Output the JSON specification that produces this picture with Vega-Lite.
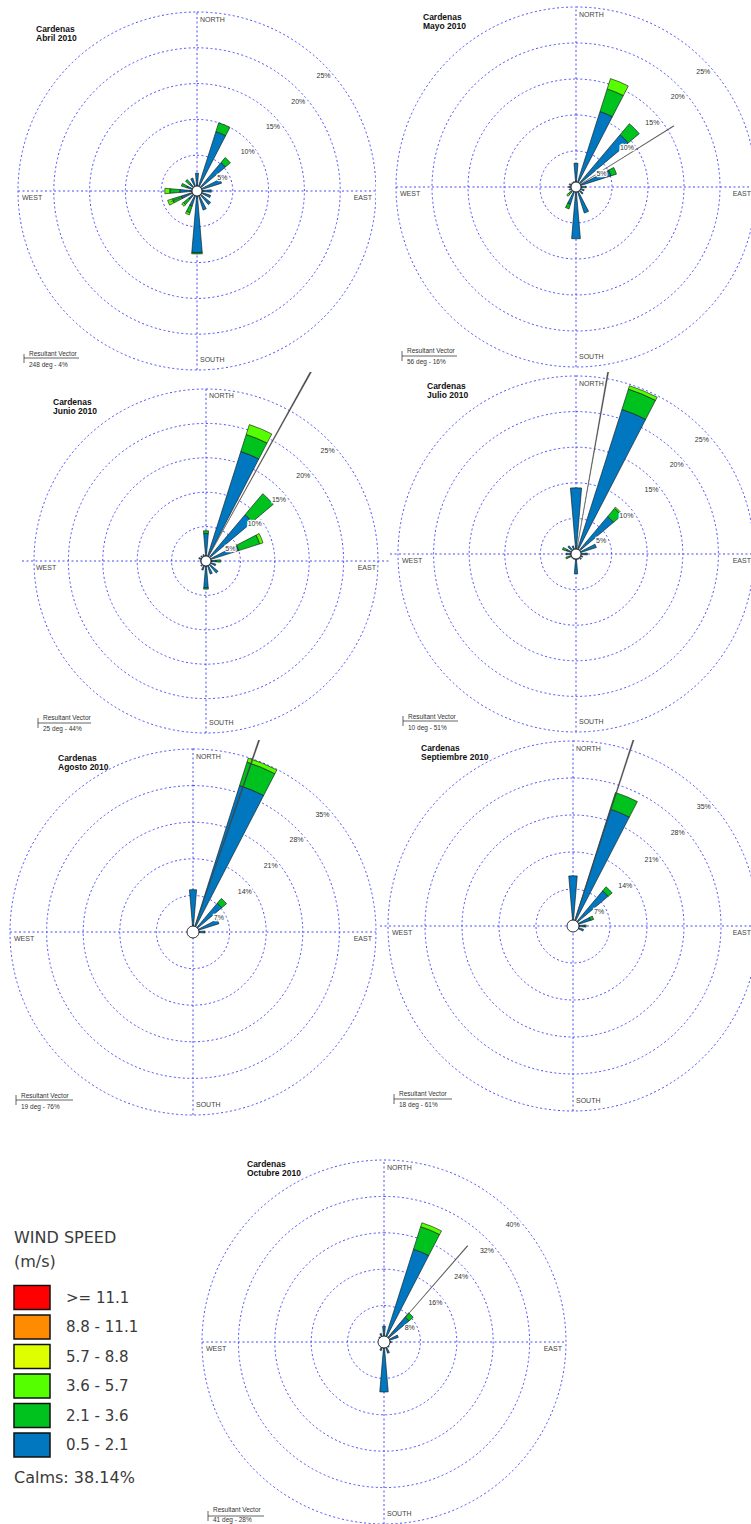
{
"$schema": "https://vega.github.io/schema/vega-lite/v6.json",
"padding": 0,
"background": "white",
"spacing": 0,
"config": {"view": {"stroke": null}, "axis": {"disable": true}, "legend": {"disable": true}, "concat": {"spacing": 0}, "text": {"font": "Liberation Sans"}},
"resolve": {"scale": {"radius": "independent", "x": "independent", "y": "independent"}},
"datasets": {
"r25": [{"r":5,"lab":"5%"},{"r":10,"lab":"10%"},{"r":15,"lab":"15%"},{"r":20,"lab":"20%"},{"r":25,"lab":"25%"}],
"r35": [{"r":7,"lab":"7%"},{"r":14,"lab":"14%"},{"r":21,"lab":"21%"},{"r":28,"lab":"28%"},{"r":35,"lab":"35%"}],
"r40": [{"r":8,"lab":"8%"},{"r":16,"lab":"16%"},{"r":24,"lab":"24%"},{"r":32,"lab":"32%"},{"r":40,"lab":"40%"}],
"cls": [{"c":6,"lab":">= 11.1"},{"c":5,"lab":"8.8 - 11.1"},{"c":4,"lab":"5.7 - 8.8"},{"c":3,"lab":"3.6 - 5.7"},{"c":2,"lab":"2.1 - 3.6"},{"c":1,"lab":"0.5 - 2.1"}],
"abril": [{"d":0,"c":1,"v":2.5},{"d":22.5,"c":1,"v":8.7},{"d":22.5,"c":2,"v":1.3},{"d":45,"c":1,"v":5.2},{"d":45,"c":2,"v":0.9},{"d":67.5,"c":1,"v":3.6},{"d":90,"c":1,"v":2.0},{"d":112.5,"c":1,"v":2.0},{"d":135,"c":1,"v":2.5},{"d":157.5,"c":1,"v":2.8},{"d":180,"c":1,"v":8.6},{"d":180,"c":2,"v":0.2},{"d":202.5,"c":1,"v":2.2},{"d":202.5,"c":2,"v":1.0},{"d":202.5,"c":3,"v":0.3},{"d":225,"c":1,"v":1.5},{"d":225,"c":2,"v":1.0},{"d":225,"c":3,"v":0.3},{"d":247.5,"c":1,"v":2.3},{"d":247.5,"c":2,"v":1.3},{"d":247.5,"c":3,"v":0.7},{"d":270,"c":1,"v":2.4},{"d":270,"c":2,"v":1.4},{"d":270,"c":3,"v":0.7},{"d":292.5,"c":1,"v":1.5},{"d":292.5,"c":2,"v":0.8},{"d":315,"c":1,"v":1.4},{"d":315,"c":2,"v":0.7},{"d":337.5,"c":1,"v":1.9}],
"mayo": [{"d":0,"c":1,"v":3.3},{"d":22.5,"c":1,"v":11},{"d":22.5,"c":2,"v":3.3},{"d":22.5,"c":3,"v":1.5},{"d":45,"c":1,"v":9.5},{"d":45,"c":2,"v":2.0},{"d":67.5,"c":1,"v":5.1},{"d":67.5,"c":2,"v":0.8},{"d":90,"c":1,"v":1.4},{"d":112.5,"c":1,"v":1.2},{"d":135,"c":1,"v":1.3},{"d":157.5,"c":1,"v":3.8},{"d":180,"c":1,"v":7.2},{"d":202.5,"c":1,"v":2.5},{"d":202.5,"c":2,"v":0.7},{"d":225,"c":1,"v":1.0},{"d":225,"c":2,"v":0.4},{"d":225,"c":3,"v":0.3},{"d":247.5,"c":1,"v":1.0},{"d":270,"c":1,"v":1.0},{"d":292.5,"c":1,"v":1.0},{"d":315,"c":1,"v":0.8},{"d":337.5,"c":1,"v":0.8}],
"junio": [{"d":0,"c":1,"v":4.0},{"d":0,"c":2,"v":0.4},{"d":22.5,"c":1,"v":16.7},{"d":22.5,"c":2,"v":2.6},{"d":22.5,"c":3,"v":1.5},{"d":45,"c":1,"v":8.8},{"d":45,"c":2,"v":4.0},{"d":67.5,"c":1,"v":5.0},{"d":67.5,"c":2,"v":3.2},{"d":67.5,"c":3,"v":0.5},{"d":90,"c":1,"v":1.5},{"d":90,"c":2,"v":0.6},{"d":112.5,"c":1,"v":1.5},{"d":135,"c":1,"v":2.3},{"d":157.5,"c":1,"v":2.0},{"d":180,"c":1,"v":3.9},{"d":180,"c":2,"v":0.2},{"d":202.5,"c":1,"v":1.4},{"d":225,"c":1,"v":1.0},{"d":247.5,"c":1,"v":0.8},{"d":270,"c":1,"v":0.8},{"d":292.5,"c":1,"v":1.1},{"d":315,"c":1,"v":1.0},{"d":337.5,"c":1,"v":1.0}],
"julio": [{"d":0,"c":1,"v":9.3},{"d":22.5,"c":1,"v":21.3},{"d":22.5,"c":2,"v":3.0},{"d":22.5,"c":3,"v":0.5},{"d":45,"c":1,"v":6.9},{"d":45,"c":2,"v":1.5},{"d":45,"c":3,"v":0.2},{"d":67.5,"c":1,"v":3.0},{"d":90,"c":1,"v":1.6},{"d":112.5,"c":1,"v":1.0},{"d":135,"c":1,"v":1.0},{"d":157.5,"c":1,"v":0.8},{"d":180,"c":1,"v":2.8},{"d":202.5,"c":1,"v":0.8},{"d":225,"c":1,"v":0.8},{"d":247.5,"c":1,"v":1.0},{"d":247.5,"c":2,"v":0.5},{"d":270,"c":1,"v":1.4},{"d":292.5,"c":1,"v":1.4},{"d":292.5,"c":2,"v":0.6},{"d":315,"c":1,"v":1.5},{"d":337.5,"c":1,"v":1.2}],
"agosto": [{"d":0,"c":1,"v":8.1},{"d":22.5,"c":1,"v":29.4},{"d":22.5,"c":2,"v":4.7},{"d":22.5,"c":3,"v":0.8},{"d":45,"c":1,"v":7.2},{"d":45,"c":2,"v":1.2},{"d":67.5,"c":1,"v":5.2},{"d":90,"c":1,"v":2.3},{"d":112.5,"c":1,"v":0.8},{"d":135,"c":1,"v":0.6},{"d":157.5,"c":1,"v":0.5},{"d":180,"c":1,"v":0.6},{"d":202.5,"c":1,"v":0.4},{"d":225,"c":1,"v":0.4},{"d":247.5,"c":1,"v":0.4},{"d":270,"c":1,"v":0.5},{"d":292.5,"c":1,"v":0.5},{"d":315,"c":1,"v":0.5},{"d":337.5,"c":1,"v":0.6}],
"sept": [{"d":0,"c":1,"v":9.5},{"d":22.5,"c":1,"v":23.2},{"d":22.5,"c":2,"v":3.3},{"d":45,"c":1,"v":8.7},{"d":45,"c":2,"v":1.0},{"d":67.5,"c":1,"v":3.5},{"d":67.5,"c":2,"v":0.6},{"d":90,"c":1,"v":2.2},{"d":90,"c":2,"v":0.3},{"d":112.5,"c":1,"v":2.1},{"d":135,"c":1,"v":0.8},{"d":157.5,"c":1,"v":0.6},{"d":180,"c":1,"v":1.1},{"d":202.5,"c":1,"v":0.5},{"d":225,"c":1,"v":0.4},{"d":247.5,"c":1,"v":0.4},{"d":270,"c":1,"v":0.4},{"d":292.5,"c":1,"v":0.4},{"d":315,"c":1,"v":0.5},{"d":337.5,"c":1,"v":0.6}],
"oct": [{"d":0,"c":1,"v":3.5},{"d":22.5,"c":1,"v":21.4},{"d":22.5,"c":2,"v":5.2},{"d":22.5,"c":3,"v":0.9},{"d":45,"c":1,"v":7.2},{"d":45,"c":2,"v":1.2},{"d":67.5,"c":1,"v":3.3},{"d":90,"c":1,"v":1.6},{"d":112.5,"c":1,"v":1.2},{"d":135,"c":1,"v":1.5},{"d":157.5,"c":1,"v":2.6},{"d":180,"c":1,"v":11},{"d":202.5,"c":1,"v":2.0},{"d":225,"c":1,"v":1.2},{"d":247.5,"c":1,"v":1.0},{"d":270,"c":1,"v":1.0},{"d":292.5,"c":1,"v":1.2},{"d":315,"c":1,"v":1.5},{"d":337.5,"c":1,"v":2.0}]
},
"vconcat": [
{"hconcat": [
{"width":376,"height":372,"layer":[
{"data":{"name":"r25"},"mark":{"type":"arc","filled":false,"stroke":"#4b4bff","strokeWidth":1,"strokeDash":[2,2.5],"clip":true},"encoding":{"x":{"datum":0,"type":"quantitative","scale":{"domain":[-197,179],"nice":false,"zero":false}},"y":{"datum":0,"type":"quantitative","scale":{"domain":[-181,191],"nice":false,"zero":false}},"theta":{"datum":0,"type":"quantitative","scale":{"domain":[0,360],"range":[0,6.283185307179586]}},"theta2":{"datum":360},"radius":{"field":"r","type":"quantitative","stack":null,"scale":{"type":"linear","domain":[0,25],"range":[0,179],"zero":true,"nice":false}}}},
{"data":{"values":[{}]},"mark":{"type":"rule","stroke":"#4b4bff","strokeWidth":1,"strokeDash":[2,2.5],"clip":true},"encoding":{"x":{"datum":0,"type":"quantitative"},"y":{"datum":-179,"type":"quantitative"},"y2":{"datum":179}}},
{"data":{"values":[{}]},"mark":{"type":"rule","stroke":"#4b4bff","strokeWidth":1,"strokeDash":[2,2.5],"clip":true},"encoding":{"y":{"datum":0,"type":"quantitative"},"x":{"datum":-179,"type":"quantitative"},"x2":{"datum":179}}},
{"data":{"name":"abril"},"transform":[{"stack":"v","groupby":["d"],"sort":[{"field":"c","order":"ascending"}],"as":["r0","r1"]}],"mark":{"type":"arc","stroke":"#111","strokeWidth":0.6,"thetaOffset":-0.085,"theta2Offset":0.085,"clip":true},"encoding":{"x":{"datum":0,"type":"quantitative"},"y":{"datum":0,"type":"quantitative"},"theta":{"field":"d","type":"quantitative","stack":null},"theta2":{"field":"d"},"radius":{"field":"r1","type":"quantitative"},"radius2":{"field":"r0"},"color":{"field":"c","type":"ordinal","scale":{"domain":[1,2,3,4,5,6],"range":["#0077be","#00c21e","#55ff00","#ddff00","#ff8c00","#ff0000"]},"legend":null}}},
{"data":{"values":[{"vd":248,"vp":4}]},"mark":{"type":"arc","fill":"#444","stroke":"#444","strokeWidth":0.4,"thetaOffset":-0.003,"theta2Offset":0.003,"clip":true},"encoding":{"x":{"datum":0,"type":"quantitative"},"y":{"datum":0,"type":"quantitative"},"theta":{"field":"vd","type":"quantitative","stack":null},"theta2":{"field":"vd"},"radius":{"field":"vp","type":"quantitative","stack":null}}},
{"data":{"name":"r25"},"mark":{"type":"text","fontSize":7,"fill":"white","stroke":"white","strokeWidth":2.5,"dy":12,"align":"center","baseline":"middle"},"encoding":{"x":{"datum":0,"type":"quantitative"},"y":{"datum":0,"type":"quantitative"},"theta":{"datum":45,"type":"quantitative"},"radius":{"field":"r","type":"quantitative","stack":null},"text":{"field":"lab"}}},
{"data":{"name":"r25"},"mark":{"type":"text","fontSize":7,"fill":"#333","dy":12,"align":"center","baseline":"middle"},"encoding":{"x":{"datum":0,"type":"quantitative"},"y":{"datum":0,"type":"quantitative"},"theta":{"datum":45,"type":"quantitative"},"radius":{"field":"r","type":"quantitative","stack":null},"text":{"field":"lab"}}},
{"data":{"values":[{}]},"mark":{"type":"arc","fill":"#fff","stroke":"#000","strokeWidth":0.8,"radius":5},"encoding":{"x":{"datum":0,"type":"quantitative"},"y":{"datum":0,"type":"quantitative"},"theta":{"datum":0,"type":"quantitative"},"theta2":{"datum":360}}},
{"data":{"values":[{}]},"mark":{"type":"text","text":"NORTH","fontSize":7,"fill":"#444","align":"left","baseline":"alphabetic"},"encoding":{"x":{"datum":3,"type":"quantitative"},"y":{"datum":169,"type":"quantitative"}}},
{"data":{"values":[{}]},"mark":{"type":"text","text":"SOUTH","fontSize":7,"fill":"#444","align":"left","baseline":"alphabetic"},"encoding":{"x":{"datum":3,"type":"quantitative"},"y":{"datum":-171,"type":"quantitative"}}},
{"data":{"values":[{}]},"mark":{"type":"text","text":"WEST","fontSize":7,"fill":"#444","align":"left","baseline":"alphabetic"},"encoding":{"x":{"datum":-175,"type":"quantitative"},"y":{"datum":-9,"type":"quantitative"}}},
{"data":{"values":[{}]},"mark":{"type":"text","text":"EAST","fontSize":7,"fill":"#444","align":"right","baseline":"alphabetic"},"encoding":{"x":{"datum":175,"type":"quantitative"},"y":{"datum":-9,"type":"quantitative"}}},
{"data":{"values":[{}]},"mark":{"type":"text","text":["Cardenas","Abril 2010"],"fontSize":8.5,"fontWeight":"bold","lineHeight":9,"align":"left","baseline":"alphabetic","fill":"#111"},"encoding":{"x":{"datum":-161,"type":"quantitative"},"y":{"datum":159,"type":"quantitative"}}},
{"data":{"values":[{}]},"mark":{"type":"rule","stroke":"#222","strokeWidth":0.7},"encoding":{"x":{"datum":-173,"type":"quantitative"},"y":{"datum":-163,"type":"quantitative"},"y2":{"datum":-172}}},
{"data":{"values":[{}]},"mark":{"type":"rule","stroke":"#222","strokeWidth":0.7},"encoding":{"x":{"datum":-173,"type":"quantitative"},"x2":{"datum":-118},"y":{"datum":-167,"type":"quantitative"}}},
{"data":{"values":[{}]},"mark":{"type":"text","text":["Resultant Vector","248 deg - 4%"],"fontSize":6.5,"lineHeight":11,"align":"left","baseline":"alphabetic","fill":"#333"},"encoding":{"x":{"datum":-168,"type":"quantitative"},"y":{"datum":-165,"type":"quantitative"}}}
]},
{"width":375,"height":372,"layer":[
{"data":{"name":"r25"},"mark":{"type":"arc","filled":false,"stroke":"#4b4bff","strokeWidth":1,"strokeDash":[2,2.5],"clip":true},"encoding":{"x":{"datum":0,"type":"quantitative","scale":{"domain":[-200,175],"nice":false,"zero":false}},"y":{"datum":0,"type":"quantitative","scale":{"domain":[-185,187],"nice":false,"zero":false}},"theta":{"datum":0,"type":"quantitative","scale":{"domain":[0,360],"range":[0,6.283185307179586]}},"theta2":{"datum":360},"radius":{"field":"r","type":"quantitative","stack":null,"scale":{"type":"linear","domain":[0,25],"range":[0,180],"zero":true,"nice":false}}}},
{"data":{"values":[{}]},"mark":{"type":"rule","stroke":"#4b4bff","strokeWidth":1,"strokeDash":[2,2.5],"clip":true},"encoding":{"x":{"datum":0,"type":"quantitative"},"y":{"datum":-180,"type":"quantitative"},"y2":{"datum":180}}},
{"data":{"values":[{}]},"mark":{"type":"rule","stroke":"#4b4bff","strokeWidth":1,"strokeDash":[2,2.5],"clip":true},"encoding":{"y":{"datum":0,"type":"quantitative"},"x":{"datum":-180,"type":"quantitative"},"x2":{"datum":180}}},
{"data":{"name":"mayo"},"transform":[{"stack":"v","groupby":["d"],"sort":[{"field":"c","order":"ascending"}],"as":["r0","r1"]}],"mark":{"type":"arc","stroke":"#111","strokeWidth":0.6,"thetaOffset":-0.085,"theta2Offset":0.085,"clip":true},"encoding":{"x":{"datum":0,"type":"quantitative"},"y":{"datum":0,"type":"quantitative"},"theta":{"field":"d","type":"quantitative","stack":null},"theta2":{"field":"d"},"radius":{"field":"r1","type":"quantitative"},"radius2":{"field":"r0"},"color":{"field":"c","type":"ordinal","scale":{"domain":[1,2,3,4,5,6],"range":["#0077be","#00c21e","#55ff00","#ddff00","#ff8c00","#ff0000"]},"legend":null}}},
{"data":{"values":[{"vd":58,"vp":16}]},"mark":{"type":"arc","fill":"#444","stroke":"#444","strokeWidth":0.4,"thetaOffset":-0.003,"theta2Offset":0.003,"clip":true},"encoding":{"x":{"datum":0,"type":"quantitative"},"y":{"datum":0,"type":"quantitative"},"theta":{"field":"vd","type":"quantitative","stack":null},"theta2":{"field":"vd"},"radius":{"field":"vp","type":"quantitative","stack":null}}},
{"data":{"name":"r25"},"mark":{"type":"text","fontSize":7,"fill":"white","stroke":"white","strokeWidth":2.5,"dy":12,"align":"center","baseline":"middle"},"encoding":{"x":{"datum":0,"type":"quantitative"},"y":{"datum":0,"type":"quantitative"},"theta":{"datum":45,"type":"quantitative"},"radius":{"field":"r","type":"quantitative","stack":null},"text":{"field":"lab"}}},
{"data":{"name":"r25"},"mark":{"type":"text","fontSize":7,"fill":"#333","dy":12,"align":"center","baseline":"middle"},"encoding":{"x":{"datum":0,"type":"quantitative"},"y":{"datum":0,"type":"quantitative"},"theta":{"datum":45,"type":"quantitative"},"radius":{"field":"r","type":"quantitative","stack":null},"text":{"field":"lab"}}},
{"data":{"values":[{}]},"mark":{"type":"arc","fill":"#fff","stroke":"#000","strokeWidth":0.8,"radius":5},"encoding":{"x":{"datum":0,"type":"quantitative"},"y":{"datum":0,"type":"quantitative"},"theta":{"datum":0,"type":"quantitative"},"theta2":{"datum":360}}},
{"data":{"values":[{}]},"mark":{"type":"text","text":"NORTH","fontSize":7,"fill":"#444","align":"left","baseline":"alphabetic"},"encoding":{"x":{"datum":3,"type":"quantitative"},"y":{"datum":170,"type":"quantitative"}}},
{"data":{"values":[{}]},"mark":{"type":"text","text":"SOUTH","fontSize":7,"fill":"#444","align":"left","baseline":"alphabetic"},"encoding":{"x":{"datum":3,"type":"quantitative"},"y":{"datum":-172,"type":"quantitative"}}},
{"data":{"values":[{}]},"mark":{"type":"text","text":"WEST","fontSize":7,"fill":"#444","align":"left","baseline":"alphabetic"},"encoding":{"x":{"datum":-176,"type":"quantitative"},"y":{"datum":-9,"type":"quantitative"}}},
{"data":{"values":[{}]},"mark":{"type":"text","text":"EAST","fontSize":7,"fill":"#444","align":"right","baseline":"alphabetic"},"encoding":{"x":{"datum":175,"type":"quantitative"},"y":{"datum":-9,"type":"quantitative"}}},
{"data":{"values":[{}]},"mark":{"type":"text","text":["Cardenas","Mayo 2010"],"fontSize":8.5,"fontWeight":"bold","lineHeight":9,"align":"left","baseline":"alphabetic","fill":"#111"},"encoding":{"x":{"datum":-153,"type":"quantitative"},"y":{"datum":167,"type":"quantitative"}}},
{"data":{"values":[{}]},"mark":{"type":"rule","stroke":"#222","strokeWidth":0.7},"encoding":{"x":{"datum":-174,"type":"quantitative"},"y":{"datum":-164,"type":"quantitative"},"y2":{"datum":-174}}},
{"data":{"values":[{}]},"mark":{"type":"rule","stroke":"#222","strokeWidth":0.7},"encoding":{"x":{"datum":-174,"type":"quantitative"},"x2":{"datum":-119},"y":{"datum":-169,"type":"quantitative"}}},
{"data":{"values":[{}]},"mark":{"type":"text","text":["Resultant Vector","56 deg - 16%"],"fontSize":6.5,"lineHeight":11,"align":"left","baseline":"alphabetic","fill":"#333"},"encoding":{"x":{"datum":-169,"type":"quantitative"},"y":{"datum":-166,"type":"quantitative"}}}
]}
], "spacing": 0, "bounds": "flush", "resolve": {"scale": {"radius": "independent"}}},
{"hconcat": [
{"width":390,"height":368,"layer":[
{"data":{"name":"r25"},"mark":{"type":"arc","filled":false,"stroke":"#4b4bff","strokeWidth":1,"strokeDash":[2,2.5],"clip":true},"encoding":{"x":{"datum":0,"type":"quantitative","scale":{"domain":[-206,184],"nice":false,"zero":false}},"y":{"datum":0,"type":"quantitative","scale":{"domain":[-179,189],"nice":false,"zero":false}},"theta":{"datum":0,"type":"quantitative","scale":{"domain":[0,360],"range":[0,6.283185307179586]}},"theta2":{"datum":360},"radius":{"field":"r","type":"quantitative","stack":null,"scale":{"type":"linear","domain":[0,25],"range":[0,172],"zero":true,"nice":false}}}},
{"data":{"values":[{}]},"mark":{"type":"rule","stroke":"#4b4bff","strokeWidth":1,"strokeDash":[2,2.5],"clip":true},"encoding":{"x":{"datum":0,"type":"quantitative"},"y":{"datum":-172,"type":"quantitative"},"y2":{"datum":172}}},
{"data":{"values":[{}]},"mark":{"type":"rule","stroke":"#4b4bff","strokeWidth":1,"strokeDash":[2,2.5],"clip":true},"encoding":{"y":{"datum":0,"type":"quantitative"},"x":{"datum":-184,"type":"quantitative"},"x2":{"datum":184}}},
{"data":{"name":"junio"},"transform":[{"stack":"v","groupby":["d"],"sort":[{"field":"c","order":"ascending"}],"as":["r0","r1"]}],"mark":{"type":"arc","stroke":"#111","strokeWidth":0.6,"thetaOffset":-0.085,"theta2Offset":0.085,"clip":true},"encoding":{"x":{"datum":0,"type":"quantitative"},"y":{"datum":0,"type":"quantitative"},"theta":{"field":"d","type":"quantitative","stack":null},"theta2":{"field":"d"},"radius":{"field":"r1","type":"quantitative"},"radius2":{"field":"r0"},"color":{"field":"c","type":"ordinal","scale":{"domain":[1,2,3,4,5,6],"range":["#0077be","#00c21e","#55ff00","#ddff00","#ff8c00","#ff0000"]},"legend":null}}},
{"data":{"values":[{"vd":29,"vp":44}]},"mark":{"type":"arc","fill":"#444","stroke":"#444","strokeWidth":0.4,"thetaOffset":-0.003,"theta2Offset":0.003,"clip":true},"encoding":{"x":{"datum":0,"type":"quantitative"},"y":{"datum":0,"type":"quantitative"},"theta":{"field":"vd","type":"quantitative","stack":null},"theta2":{"field":"vd"},"radius":{"field":"vp","type":"quantitative","stack":null}}},
{"data":{"name":"r25"},"mark":{"type":"text","fontSize":7,"fill":"white","stroke":"white","strokeWidth":2.5,"dy":12,"align":"center","baseline":"middle"},"encoding":{"x":{"datum":0,"type":"quantitative"},"y":{"datum":0,"type":"quantitative"},"theta":{"datum":45,"type":"quantitative"},"radius":{"field":"r","type":"quantitative","stack":null},"text":{"field":"lab"}}},
{"data":{"name":"r25"},"mark":{"type":"text","fontSize":7,"fill":"#333","dy":12,"align":"center","baseline":"middle"},"encoding":{"x":{"datum":0,"type":"quantitative"},"y":{"datum":0,"type":"quantitative"},"theta":{"datum":45,"type":"quantitative"},"radius":{"field":"r","type":"quantitative","stack":null},"text":{"field":"lab"}}},
{"data":{"values":[{}]},"mark":{"type":"arc","fill":"#fff","stroke":"#000","strokeWidth":0.8,"radius":5},"encoding":{"x":{"datum":0,"type":"quantitative"},"y":{"datum":0,"type":"quantitative"},"theta":{"datum":0,"type":"quantitative"},"theta2":{"datum":360}}},
{"data":{"values":[{}]},"mark":{"type":"text","text":"NORTH","fontSize":7,"fill":"#444","align":"left","baseline":"alphabetic"},"encoding":{"x":{"datum":3,"type":"quantitative"},"y":{"datum":163,"type":"quantitative"}}},
{"data":{"values":[{}]},"mark":{"type":"text","text":"SOUTH","fontSize":7,"fill":"#444","align":"left","baseline":"alphabetic"},"encoding":{"x":{"datum":3,"type":"quantitative"},"y":{"datum":-164,"type":"quantitative"}}},
{"data":{"values":[{}]},"mark":{"type":"text","text":"WEST","fontSize":7,"fill":"#444","align":"left","baseline":"alphabetic"},"encoding":{"x":{"datum":-170,"type":"quantitative"},"y":{"datum":-9,"type":"quantitative"}}},
{"data":{"values":[{}]},"mark":{"type":"text","text":"EAST","fontSize":7,"fill":"#444","align":"right","baseline":"alphabetic"},"encoding":{"x":{"datum":170,"type":"quantitative"},"y":{"datum":-9,"type":"quantitative"}}},
{"data":{"values":[{}]},"mark":{"type":"text","text":["Cardenas","Junio 2010"],"fontSize":8.5,"fontWeight":"bold","lineHeight":9,"align":"left","baseline":"alphabetic","fill":"#111"},"encoding":{"x":{"datum":-153,"type":"quantitative"},"y":{"datum":156,"type":"quantitative"}}},
{"data":{"values":[{}]},"mark":{"type":"rule","stroke":"#222","strokeWidth":0.7},"encoding":{"x":{"datum":-168,"type":"quantitative"},"y":{"datum":-157,"type":"quantitative"},"y2":{"datum":-167}}},
{"data":{"values":[{}]},"mark":{"type":"rule","stroke":"#222","strokeWidth":0.7},"encoding":{"x":{"datum":-168,"type":"quantitative"},"x2":{"datum":-115},"y":{"datum":-162,"type":"quantitative"}}},
{"data":{"values":[{}]},"mark":{"type":"text","text":["Resultant Vector","25 deg - 44%"],"fontSize":6.5,"lineHeight":11,"align":"left","baseline":"alphabetic","fill":"#333"},"encoding":{"x":{"datum":-163,"type":"quantitative"},"y":{"datum":-159,"type":"quantitative"}}}
]},
{"width":361,"height":368,"layer":[
{"data":{"name":"r25"},"mark":{"type":"arc","filled":false,"stroke":"#4b4bff","strokeWidth":1,"strokeDash":[2,2.5],"clip":true},"encoding":{"x":{"datum":0,"type":"quantitative","scale":{"domain":[-186,175],"nice":false,"zero":false}},"y":{"datum":0,"type":"quantitative","scale":{"domain":[-186,182],"nice":false,"zero":false}},"theta":{"datum":0,"type":"quantitative","scale":{"domain":[0,360],"range":[0,6.283185307179586]}},"theta2":{"datum":360},"radius":{"field":"r","type":"quantitative","stack":null,"scale":{"type":"linear","domain":[0,25],"range":[0,178],"zero":true,"nice":false}}}},
{"data":{"values":[{}]},"mark":{"type":"rule","stroke":"#4b4bff","strokeWidth":1,"strokeDash":[2,2.5],"clip":true},"encoding":{"x":{"datum":0,"type":"quantitative"},"y":{"datum":-178,"type":"quantitative"},"y2":{"datum":178}}},
{"data":{"values":[{}]},"mark":{"type":"rule","stroke":"#4b4bff","strokeWidth":1,"strokeDash":[2,2.5],"clip":true},"encoding":{"y":{"datum":0,"type":"quantitative"},"x":{"datum":-186,"type":"quantitative"},"x2":{"datum":178}}},
{"data":{"name":"julio"},"transform":[{"stack":"v","groupby":["d"],"sort":[{"field":"c","order":"ascending"}],"as":["r0","r1"]}],"mark":{"type":"arc","stroke":"#111","strokeWidth":0.6,"thetaOffset":-0.085,"theta2Offset":0.085,"clip":true},"encoding":{"x":{"datum":0,"type":"quantitative"},"y":{"datum":0,"type":"quantitative"},"theta":{"field":"d","type":"quantitative","stack":null},"theta2":{"field":"d"},"radius":{"field":"r1","type":"quantitative"},"radius2":{"field":"r0"},"color":{"field":"c","type":"ordinal","scale":{"domain":[1,2,3,4,5,6],"range":["#0077be","#00c21e","#55ff00","#ddff00","#ff8c00","#ff0000"]},"legend":null}}},
{"data":{"values":[{"vd":10,"vp":51}]},"mark":{"type":"arc","fill":"#444","stroke":"#444","strokeWidth":0.4,"thetaOffset":-0.003,"theta2Offset":0.003,"clip":true},"encoding":{"x":{"datum":0,"type":"quantitative"},"y":{"datum":0,"type":"quantitative"},"theta":{"field":"vd","type":"quantitative","stack":null},"theta2":{"field":"vd"},"radius":{"field":"vp","type":"quantitative","stack":null}}},
{"data":{"name":"r25"},"mark":{"type":"text","fontSize":7,"fill":"white","stroke":"white","strokeWidth":2.5,"dy":12,"align":"center","baseline":"middle"},"encoding":{"x":{"datum":0,"type":"quantitative"},"y":{"datum":0,"type":"quantitative"},"theta":{"datum":45,"type":"quantitative"},"radius":{"field":"r","type":"quantitative","stack":null},"text":{"field":"lab"}}},
{"data":{"name":"r25"},"mark":{"type":"text","fontSize":7,"fill":"#333","dy":12,"align":"center","baseline":"middle"},"encoding":{"x":{"datum":0,"type":"quantitative"},"y":{"datum":0,"type":"quantitative"},"theta":{"datum":45,"type":"quantitative"},"radius":{"field":"r","type":"quantitative","stack":null},"text":{"field":"lab"}}},
{"data":{"values":[{}]},"mark":{"type":"arc","fill":"#fff","stroke":"#000","strokeWidth":0.8,"radius":5},"encoding":{"x":{"datum":0,"type":"quantitative"},"y":{"datum":0,"type":"quantitative"},"theta":{"datum":0,"type":"quantitative"},"theta2":{"datum":360}}},
{"data":{"values":[{}]},"mark":{"type":"text","text":"NORTH","fontSize":7,"fill":"#444","align":"left","baseline":"alphabetic"},"encoding":{"x":{"datum":3,"type":"quantitative"},"y":{"datum":168,"type":"quantitative"}}},
{"data":{"values":[{}]},"mark":{"type":"text","text":"SOUTH","fontSize":7,"fill":"#444","align":"left","baseline":"alphabetic"},"encoding":{"x":{"datum":3,"type":"quantitative"},"y":{"datum":-170,"type":"quantitative"}}},
{"data":{"values":[{}]},"mark":{"type":"text","text":"WEST","fontSize":7,"fill":"#444","align":"left","baseline":"alphabetic"},"encoding":{"x":{"datum":-174,"type":"quantitative"},"y":{"datum":-9,"type":"quantitative"}}},
{"data":{"values":[{}]},"mark":{"type":"text","text":"EAST","fontSize":7,"fill":"#444","align":"right","baseline":"alphabetic"},"encoding":{"x":{"datum":175,"type":"quantitative"},"y":{"datum":-9,"type":"quantitative"}}},
{"data":{"values":[{}]},"mark":{"type":"text","text":["Cardenas","Julio 2010"],"fontSize":8.5,"fontWeight":"bold","lineHeight":9,"align":"left","baseline":"alphabetic","fill":"#111"},"encoding":{"x":{"datum":-149,"type":"quantitative"},"y":{"datum":165,"type":"quantitative"}}},
{"data":{"values":[{}]},"mark":{"type":"rule","stroke":"#222","strokeWidth":0.7},"encoding":{"x":{"datum":-173,"type":"quantitative"},"y":{"datum":-162,"type":"quantitative"},"y2":{"datum":-172}}},
{"data":{"values":[{}]},"mark":{"type":"rule","stroke":"#222","strokeWidth":0.7},"encoding":{"x":{"datum":-173,"type":"quantitative"},"x2":{"datum":-118},"y":{"datum":-167,"type":"quantitative"}}},
{"data":{"values":[{}]},"mark":{"type":"text","text":["Resultant Vector","10 deg - 51%"],"fontSize":6.5,"lineHeight":11,"align":"left","baseline":"alphabetic","fill":"#333"},"encoding":{"x":{"datum":-168,"type":"quantitative"},"y":{"datum":-165,"type":"quantitative"}}}
]}
], "spacing": 0, "bounds": "flush", "resolve": {"scale": {"radius": "independent"}}},
{"hconcat": [
{"width":380,"height":380,"layer":[
{"data":{"name":"r35"},"mark":{"type":"arc","filled":false,"stroke":"#4b4bff","strokeWidth":1,"strokeDash":[2,2.5],"clip":true},"encoding":{"x":{"datum":0,"type":"quantitative","scale":{"domain":[-193,187],"nice":false,"zero":false}},"y":{"datum":0,"type":"quantitative","scale":{"domain":[-188,192],"nice":false,"zero":false}},"theta":{"datum":0,"type":"quantitative","scale":{"domain":[0,360],"range":[0,6.283185307179586]}},"theta2":{"datum":360},"radius":{"field":"r","type":"quantitative","stack":null,"scale":{"type":"linear","domain":[0,35],"range":[0,183],"zero":true,"nice":false}}}},
{"data":{"values":[{}]},"mark":{"type":"rule","stroke":"#4b4bff","strokeWidth":1,"strokeDash":[2,2.5],"clip":true},"encoding":{"x":{"datum":0,"type":"quantitative"},"y":{"datum":-183,"type":"quantitative"},"y2":{"datum":183}}},
{"data":{"values":[{}]},"mark":{"type":"rule","stroke":"#4b4bff","strokeWidth":1,"strokeDash":[2,2.5],"clip":true},"encoding":{"y":{"datum":0,"type":"quantitative"},"x":{"datum":-183,"type":"quantitative"},"x2":{"datum":183}}},
{"data":{"name":"agosto"},"transform":[{"stack":"v","groupby":["d"],"sort":[{"field":"c","order":"ascending"}],"as":["r0","r1"]}],"mark":{"type":"arc","stroke":"#111","strokeWidth":0.6,"thetaOffset":-0.085,"theta2Offset":0.085,"clip":true},"encoding":{"x":{"datum":0,"type":"quantitative"},"y":{"datum":0,"type":"quantitative"},"theta":{"field":"d","type":"quantitative","stack":null},"theta2":{"field":"d"},"radius":{"field":"r1","type":"quantitative"},"radius2":{"field":"r0"},"color":{"field":"c","type":"ordinal","scale":{"domain":[1,2,3,4,5,6],"range":["#0077be","#00c21e","#55ff00","#ddff00","#ff8c00","#ff0000"]},"legend":null}}},
{"data":{"values":[{"vd":19,"vp":76}]},"mark":{"type":"arc","fill":"#444","stroke":"#444","strokeWidth":0.4,"thetaOffset":-0.003,"theta2Offset":0.003,"clip":true},"encoding":{"x":{"datum":0,"type":"quantitative"},"y":{"datum":0,"type":"quantitative"},"theta":{"field":"vd","type":"quantitative","stack":null},"theta2":{"field":"vd"},"radius":{"field":"vp","type":"quantitative","stack":null}}},
{"data":{"name":"r35"},"mark":{"type":"text","fontSize":7,"fill":"white","stroke":"white","strokeWidth":2.5,"dy":12,"align":"center","baseline":"middle"},"encoding":{"x":{"datum":0,"type":"quantitative"},"y":{"datum":0,"type":"quantitative"},"theta":{"datum":45,"type":"quantitative"},"radius":{"field":"r","type":"quantitative","stack":null},"text":{"field":"lab"}}},
{"data":{"name":"r35"},"mark":{"type":"text","fontSize":7,"fill":"#333","dy":12,"align":"center","baseline":"middle"},"encoding":{"x":{"datum":0,"type":"quantitative"},"y":{"datum":0,"type":"quantitative"},"theta":{"datum":45,"type":"quantitative"},"radius":{"field":"r","type":"quantitative","stack":null},"text":{"field":"lab"}}},
{"data":{"values":[{}]},"mark":{"type":"arc","fill":"#fff","stroke":"#000","strokeWidth":0.8,"radius":6},"encoding":{"x":{"datum":0,"type":"quantitative"},"y":{"datum":0,"type":"quantitative"},"theta":{"datum":0,"type":"quantitative"},"theta2":{"datum":360}}},
{"data":{"values":[{}]},"mark":{"type":"text","text":"NORTH","fontSize":7,"fill":"#444","align":"left","baseline":"alphabetic"},"encoding":{"x":{"datum":3,"type":"quantitative"},"y":{"datum":173,"type":"quantitative"}}},
{"data":{"values":[{}]},"mark":{"type":"text","text":"SOUTH","fontSize":7,"fill":"#444","align":"left","baseline":"alphabetic"},"encoding":{"x":{"datum":3,"type":"quantitative"},"y":{"datum":-175,"type":"quantitative"}}},
{"data":{"values":[{}]},"mark":{"type":"text","text":"WEST","fontSize":7,"fill":"#444","align":"left","baseline":"alphabetic"},"encoding":{"x":{"datum":-179,"type":"quantitative"},"y":{"datum":-9,"type":"quantitative"}}},
{"data":{"values":[{}]},"mark":{"type":"text","text":"EAST","fontSize":7,"fill":"#444","align":"right","baseline":"alphabetic"},"encoding":{"x":{"datum":179,"type":"quantitative"},"y":{"datum":-9,"type":"quantitative"}}},
{"data":{"values":[{}]},"mark":{"type":"text","text":["Cardenas","Agosto 2010"],"fontSize":8.5,"fontWeight":"bold","lineHeight":9,"align":"left","baseline":"alphabetic","fill":"#111"},"encoding":{"x":{"datum":-135,"type":"quantitative"},"y":{"datum":171,"type":"quantitative"}}},
{"data":{"values":[{}]},"mark":{"type":"rule","stroke":"#222","strokeWidth":0.7},"encoding":{"x":{"datum":-177,"type":"quantitative"},"y":{"datum":-163,"type":"quantitative"},"y2":{"datum":-173}}},
{"data":{"values":[{}]},"mark":{"type":"rule","stroke":"#222","strokeWidth":0.7},"encoding":{"x":{"datum":-177,"type":"quantitative"},"x2":{"datum":-120},"y":{"datum":-168,"type":"quantitative"}}},
{"data":{"values":[{}]},"mark":{"type":"text","text":["Resultant Vector","19 deg - 76%"],"fontSize":6.5,"lineHeight":11,"align":"left","baseline":"alphabetic","fill":"#333"},"encoding":{"x":{"datum":-172,"type":"quantitative"},"y":{"datum":-166,"type":"quantitative"}}}
]},
{"width":371,"height":380,"layer":[
{"data":{"name":"r35"},"mark":{"type":"arc","filled":false,"stroke":"#4b4bff","strokeWidth":1,"strokeDash":[2,2.5],"clip":true},"encoding":{"x":{"datum":0,"type":"quantitative","scale":{"domain":[-193,178],"nice":false,"zero":false}},"y":{"datum":0,"type":"quantitative","scale":{"domain":[-194,186],"nice":false,"zero":false}},"theta":{"datum":0,"type":"quantitative","scale":{"domain":[0,360],"range":[0,6.283185307179586]}},"theta2":{"datum":360},"radius":{"field":"r","type":"quantitative","stack":null,"scale":{"type":"linear","domain":[0,35],"range":[0,185],"zero":true,"nice":false}}}},
{"data":{"values":[{}]},"mark":{"type":"rule","stroke":"#4b4bff","strokeWidth":1,"strokeDash":[2,2.5],"clip":true},"encoding":{"x":{"datum":0,"type":"quantitative"},"y":{"datum":-185,"type":"quantitative"},"y2":{"datum":185}}},
{"data":{"values":[{}]},"mark":{"type":"rule","stroke":"#4b4bff","strokeWidth":1,"strokeDash":[2,2.5],"clip":true},"encoding":{"y":{"datum":0,"type":"quantitative"},"x":{"datum":-193,"type":"quantitative"},"x2":{"datum":178}}},
{"data":{"name":"sept"},"transform":[{"stack":"v","groupby":["d"],"sort":[{"field":"c","order":"ascending"}],"as":["r0","r1"]}],"mark":{"type":"arc","stroke":"#111","strokeWidth":0.6,"thetaOffset":-0.085,"theta2Offset":0.085,"clip":true},"encoding":{"x":{"datum":0,"type":"quantitative"},"y":{"datum":0,"type":"quantitative"},"theta":{"field":"d","type":"quantitative","stack":null},"theta2":{"field":"d"},"radius":{"field":"r1","type":"quantitative"},"radius2":{"field":"r0"},"color":{"field":"c","type":"ordinal","scale":{"domain":[1,2,3,4,5,6],"range":["#0077be","#00c21e","#55ff00","#ddff00","#ff8c00","#ff0000"]},"legend":null}}},
{"data":{"values":[{"vd":18,"vp":61}]},"mark":{"type":"arc","fill":"#444","stroke":"#444","strokeWidth":0.4,"thetaOffset":-0.003,"theta2Offset":0.003,"clip":true},"encoding":{"x":{"datum":0,"type":"quantitative"},"y":{"datum":0,"type":"quantitative"},"theta":{"field":"vd","type":"quantitative","stack":null},"theta2":{"field":"vd"},"radius":{"field":"vp","type":"quantitative","stack":null}}},
{"data":{"name":"r35"},"mark":{"type":"text","fontSize":7,"fill":"white","stroke":"white","strokeWidth":2.5,"dy":12,"align":"center","baseline":"middle"},"encoding":{"x":{"datum":0,"type":"quantitative"},"y":{"datum":0,"type":"quantitative"},"theta":{"datum":45,"type":"quantitative"},"radius":{"field":"r","type":"quantitative","stack":null},"text":{"field":"lab"}}},
{"data":{"name":"r35"},"mark":{"type":"text","fontSize":7,"fill":"#333","dy":12,"align":"center","baseline":"middle"},"encoding":{"x":{"datum":0,"type":"quantitative"},"y":{"datum":0,"type":"quantitative"},"theta":{"datum":45,"type":"quantitative"},"radius":{"field":"r","type":"quantitative","stack":null},"text":{"field":"lab"}}},
{"data":{"values":[{}]},"mark":{"type":"arc","fill":"#fff","stroke":"#000","strokeWidth":0.8,"radius":6},"encoding":{"x":{"datum":0,"type":"quantitative"},"y":{"datum":0,"type":"quantitative"},"theta":{"datum":0,"type":"quantitative"},"theta2":{"datum":360}}},
{"data":{"values":[{}]},"mark":{"type":"text","text":"NORTH","fontSize":7,"fill":"#444","align":"left","baseline":"alphabetic"},"encoding":{"x":{"datum":3,"type":"quantitative"},"y":{"datum":175,"type":"quantitative"}}},
{"data":{"values":[{}]},"mark":{"type":"text","text":"SOUTH","fontSize":7,"fill":"#444","align":"left","baseline":"alphabetic"},"encoding":{"x":{"datum":3,"type":"quantitative"},"y":{"datum":-177,"type":"quantitative"}}},
{"data":{"values":[{}]},"mark":{"type":"text","text":"WEST","fontSize":7,"fill":"#444","align":"left","baseline":"alphabetic"},"encoding":{"x":{"datum":-181,"type":"quantitative"},"y":{"datum":-9,"type":"quantitative"}}},
{"data":{"values":[{}]},"mark":{"type":"text","text":"EAST","fontSize":7,"fill":"#444","align":"right","baseline":"alphabetic"},"encoding":{"x":{"datum":178,"type":"quantitative"},"y":{"datum":-9,"type":"quantitative"}}},
{"data":{"values":[{}]},"mark":{"type":"text","text":["Cardenas","Septiembre 2010"],"fontSize":8.5,"fontWeight":"bold","lineHeight":9,"align":"left","baseline":"alphabetic","fill":"#111"},"encoding":{"x":{"datum":-152,"type":"quantitative"},"y":{"datum":175,"type":"quantitative"}}},
{"data":{"values":[{}]},"mark":{"type":"rule","stroke":"#222","strokeWidth":0.7},"encoding":{"x":{"datum":-179,"type":"quantitative"},"y":{"datum":-168,"type":"quantitative"},"y2":{"datum":-178}}},
{"data":{"values":[{}]},"mark":{"type":"rule","stroke":"#222","strokeWidth":0.7},"encoding":{"x":{"datum":-179,"type":"quantitative"},"x2":{"datum":-121},"y":{"datum":-173,"type":"quantitative"}}},
{"data":{"values":[{}]},"mark":{"type":"text","text":["Resultant Vector","18 deg - 61%"],"fontSize":6.5,"lineHeight":11,"align":"left","baseline":"alphabetic","fill":"#333"},"encoding":{"x":{"datum":-174,"type":"quantitative"},"y":{"datum":-170,"type":"quantitative"}}}
]}
], "spacing": 0, "bounds": "flush", "resolve": {"scale": {"radius": "independent"}}},
{"hconcat": [
{"width":190,"height":404,"layer":[
{"data":{"name":"cls"},"mark":{"type":"point","shape":"M-1.5,-1H1.5V1H-1.5Z","size":576,"filled":true,"opacity":1,"stroke":"#111","strokeWidth":1.5},"encoding":{"x":{"datum":32,"type":"quantitative","scale":{"domain":[0,190],"nice":false,"zero":false}},"y":{"field":"c","type":"quantitative","scale":{"domain":[1,6],"range":[325,177.5],"nice":false,"zero":false}},"color":{"field":"c","type":"ordinal","scale":{"domain":[1,2,3,4,5,6],"range":["#0077be","#00c21e","#55ff00","#ddff00","#ff8c00","#ff0000"]},"legend":null}}},
{"data":{"name":"cls"},"mark":{"type":"text","fontSize":15,"font":"DejaVu Sans","fill":"#3a3a3a","align":"left","baseline":"middle"},"encoding":{"x":{"datum":66,"type":"quantitative"},"y":{"field":"c","type":"quantitative"},"text":{"field":"lab"}}},
{"data":{"values":[{}]},"mark":{"type":"text","text":"WIND SPEED","fontSize":16,"font":"DejaVu Sans","fill":"#3a3a3a","align":"left","baseline":"alphabetic"},"encoding":{"x":{"datum":14,"type":"quantitative"},"y":{"datum":7.85,"type":"quantitative"}}},
{"data":{"values":[{}]},"mark":{"type":"text","text":"(m/s)","fontSize":16,"font":"DejaVu Sans","fill":"#3a3a3a","align":"left","baseline":"alphabetic"},"encoding":{"x":{"datum":14,"type":"quantitative"},"y":{"datum":7.03,"type":"quantitative"}}},
{"data":{"values":[{}]},"mark":{"type":"text","text":"Calms: 38.14%","fontSize":16,"font":"DejaVu Sans","fill":"#3a3a3a","align":"left","baseline":"alphabetic"},"encoding":{"x":{"datum":14,"type":"quantitative"},"y":{"datum":-0.29,"type":"quantitative"}}}
]},
{"width":561,"height":404,"layer":[
{"data":{"name":"r40"},"mark":{"type":"arc","filled":false,"stroke":"#4b4bff","strokeWidth":1,"strokeDash":[2,2.5],"clip":true},"encoding":{"x":{"datum":0,"type":"quantitative","scale":{"domain":[-194,367],"nice":false,"zero":false}},"y":{"datum":0,"type":"quantitative","scale":{"domain":[-182,222],"nice":false,"zero":false}},"theta":{"datum":0,"type":"quantitative","scale":{"domain":[0,360],"range":[0,6.283185307179586]}},"theta2":{"datum":360},"radius":{"field":"r","type":"quantitative","stack":null,"scale":{"type":"linear","domain":[0,40],"range":[0,182],"zero":true,"nice":false}}}},
{"data":{"values":[{}]},"mark":{"type":"rule","stroke":"#4b4bff","strokeWidth":1,"strokeDash":[2,2.5],"clip":true},"encoding":{"x":{"datum":0,"type":"quantitative"},"y":{"datum":-182,"type":"quantitative"},"y2":{"datum":182}}},
{"data":{"values":[{}]},"mark":{"type":"rule","stroke":"#4b4bff","strokeWidth":1,"strokeDash":[2,2.5],"clip":true},"encoding":{"y":{"datum":0,"type":"quantitative"},"x":{"datum":-182,"type":"quantitative"},"x2":{"datum":182}}},
{"data":{"name":"oct"},"transform":[{"stack":"v","groupby":["d"],"sort":[{"field":"c","order":"ascending"}],"as":["r0","r1"]}],"mark":{"type":"arc","stroke":"#111","strokeWidth":0.6,"thetaOffset":-0.085,"theta2Offset":0.085,"clip":true},"encoding":{"x":{"datum":0,"type":"quantitative"},"y":{"datum":0,"type":"quantitative"},"theta":{"field":"d","type":"quantitative","stack":null},"theta2":{"field":"d"},"radius":{"field":"r1","type":"quantitative"},"radius2":{"field":"r0"},"color":{"field":"c","type":"ordinal","scale":{"domain":[1,2,3,4,5,6],"range":["#0077be","#00c21e","#55ff00","#ddff00","#ff8c00","#ff0000"]},"legend":null}}},
{"data":{"values":[{"vd":41,"vp":28}]},"mark":{"type":"arc","fill":"#444","stroke":"#444","strokeWidth":0.4,"thetaOffset":-0.003,"theta2Offset":0.003,"clip":true},"encoding":{"x":{"datum":0,"type":"quantitative"},"y":{"datum":0,"type":"quantitative"},"theta":{"field":"vd","type":"quantitative","stack":null},"theta2":{"field":"vd"},"radius":{"field":"vp","type":"quantitative","stack":null}}},
{"data":{"name":"r40"},"mark":{"type":"text","fontSize":7,"fill":"white","stroke":"white","strokeWidth":2.5,"dy":12,"align":"center","baseline":"middle"},"encoding":{"x":{"datum":0,"type":"quantitative"},"y":{"datum":0,"type":"quantitative"},"theta":{"datum":45,"type":"quantitative"},"radius":{"field":"r","type":"quantitative","stack":null},"text":{"field":"lab"}}},
{"data":{"name":"r40"},"mark":{"type":"text","fontSize":7,"fill":"#333","dy":12,"align":"center","baseline":"middle"},"encoding":{"x":{"datum":0,"type":"quantitative"},"y":{"datum":0,"type":"quantitative"},"theta":{"datum":45,"type":"quantitative"},"radius":{"field":"r","type":"quantitative","stack":null},"text":{"field":"lab"}}},
{"data":{"values":[{}]},"mark":{"type":"arc","fill":"#fff","stroke":"#000","strokeWidth":0.8,"radius":6},"encoding":{"x":{"datum":0,"type":"quantitative"},"y":{"datum":0,"type":"quantitative"},"theta":{"datum":0,"type":"quantitative"},"theta2":{"datum":360}}},
{"data":{"values":[{}]},"mark":{"type":"text","text":"NORTH","fontSize":7,"fill":"#444","align":"left","baseline":"alphabetic"},"encoding":{"x":{"datum":3,"type":"quantitative"},"y":{"datum":172,"type":"quantitative"}}},
{"data":{"values":[{}]},"mark":{"type":"text","text":"SOUTH","fontSize":7,"fill":"#444","align":"left","baseline":"alphabetic"},"encoding":{"x":{"datum":3,"type":"quantitative"},"y":{"datum":-174,"type":"quantitative"}}},
{"data":{"values":[{}]},"mark":{"type":"text","text":"WEST","fontSize":7,"fill":"#444","align":"left","baseline":"alphabetic"},"encoding":{"x":{"datum":-178,"type":"quantitative"},"y":{"datum":-9,"type":"quantitative"}}},
{"data":{"values":[{}]},"mark":{"type":"text","text":"EAST","fontSize":7,"fill":"#444","align":"right","baseline":"alphabetic"},"encoding":{"x":{"datum":178,"type":"quantitative"},"y":{"datum":-9,"type":"quantitative"}}},
{"data":{"values":[{}]},"mark":{"type":"text","text":["Cardenas","Octubre 2010"],"fontSize":8.5,"fontWeight":"bold","lineHeight":9,"align":"left","baseline":"alphabetic","fill":"#111"},"encoding":{"x":{"datum":-137,"type":"quantitative"},"y":{"datum":175,"type":"quantitative"}}},
{"data":{"values":[{}]},"mark":{"type":"rule","stroke":"#222","strokeWidth":0.7},"encoding":{"x":{"datum":-176,"type":"quantitative"},"y":{"datum":-169,"type":"quantitative"},"y2":{"datum":-179}}},
{"data":{"values":[{}]},"mark":{"type":"rule","stroke":"#222","strokeWidth":0.7},"encoding":{"x":{"datum":-176,"type":"quantitative"},"x2":{"datum":-120},"y":{"datum":-174,"type":"quantitative"}}},
{"data":{"values":[{}]},"mark":{"type":"text","text":["Resultant Vector","41 deg - 28%"],"fontSize":6.5,"lineHeight":10,"align":"left","baseline":"alphabetic","fill":"#333"},"encoding":{"x":{"datum":-171,"type":"quantitative"},"y":{"datum":-170,"type":"quantitative"}}}
]}
], "spacing": 0, "bounds": "flush", "resolve": {"scale": {"radius": "independent"}}}
]
}
